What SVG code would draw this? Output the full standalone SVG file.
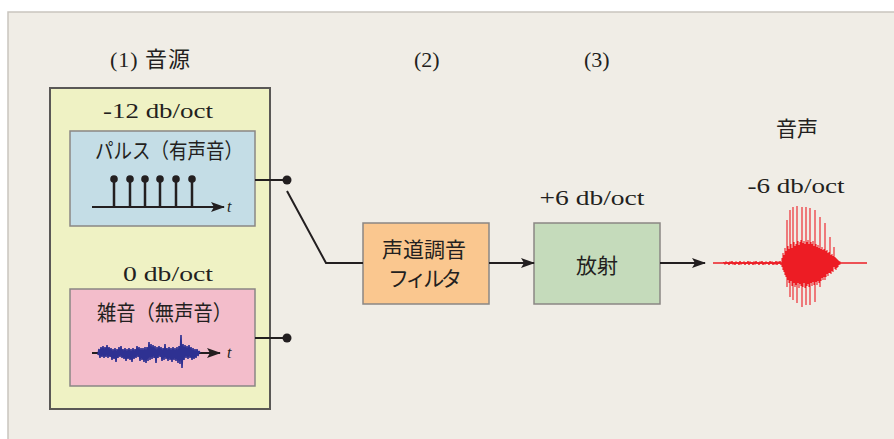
<svg xmlns="http://www.w3.org/2000/svg" width="894" height="439" viewBox="0 0 894 439">
<defs>
<style>
.lat{font-family:"Liberation Serif","Noto Sans CJK JP",serif;font-size:22px;fill:#231f20}
.jp{font-family:"Noto Sans CJK JP","Noto Sans CJK SC",sans-serif;font-size:21px;fill:#231f20}
.it{font-family:"Liberation Serif",serif;font-style:italic;font-size:16px;fill:#231f20}
.box{stroke:#8a8784;stroke-width:1.5}
.wire{fill:none;stroke:#231f20;stroke-width:2}
</style>
<marker id="ah" markerWidth="14" markerHeight="10" refX="13" refY="5" orient="auto" markerUnits="userSpaceOnUse">
<path d="M0,0 L14,5 L0,10 L3,5 Z" fill="#231f20"/>
</marker>
</defs>
<rect x="0" y="0" width="894" height="439" fill="#ffffff"/>
<rect x="8" y="12" width="890" height="432" fill="#f0ede6" stroke="#c9c5bf" stroke-width="1.5"/>

<g id="labels">
<text class="lat" x="110" y="67" font-size="20" textLength="80">(1) 音源</text>
<text class="lat" x="414" y="67" font-size="20">(2)</text>
<text class="lat" x="584" y="67" font-size="20">(3)</text>
</g>

<g id="source">
<rect x="50" y="88" width="220" height="321" fill="#eff2c4" stroke="#5a5856" stroke-width="2"/>
<text class="lat" x="158" y="118" text-anchor="middle" textLength="110" lengthAdjust="spacingAndGlyphs">-12 db/oct</text>
<text class="lat" x="168" y="281" text-anchor="middle" textLength="90" lengthAdjust="spacingAndGlyphs">0 db/oct</text>
</g>

<g id="pulse">
<rect class="box" x="70" y="131" width="185" height="95" fill="#c4dde6"/>
<text class="jp" x="95" y="158" font-size="20" textLength="148" lengthAdjust="spacingAndGlyphs">パルス（有声音）</text>
<line x1="92" y1="207" x2="224" y2="207" stroke="#231f20" stroke-width="2.2" marker-end="url(#ah)"/>
<g stroke="#231f20" stroke-width="2.5" fill="#231f20">
<line x1="114" y1="179" x2="114" y2="207"/><circle cx="114" cy="179" r="3.8" stroke="none"/>
<line x1="130" y1="179" x2="130" y2="207"/><circle cx="130" cy="179" r="3.8" stroke="none"/>
<line x1="145" y1="179" x2="145" y2="207"/><circle cx="145" cy="179" r="3.8" stroke="none"/>
<line x1="160" y1="179" x2="160" y2="207"/><circle cx="160" cy="179" r="3.8" stroke="none"/>
<line x1="176" y1="179" x2="176" y2="207"/><circle cx="176" cy="179" r="3.8" stroke="none"/>
<line x1="192" y1="179" x2="192" y2="207"/><circle cx="192" cy="179" r="3.8" stroke="none"/>
</g>
<text class="it" x="227" y="212">t</text>
</g>

<g id="noise">
<rect class="box" x="70" y="289" width="185" height="97" fill="#f3bdcb"/>
<text class="jp" x="97" y="320" font-size="20" textLength="135" lengthAdjust="spacingAndGlyphs">雑音（無声音）</text>
<line x1="92" y1="353" x2="220" y2="353" stroke="#231f20" stroke-width="2.2" marker-end="url(#ah)"/>
<path fill="none" stroke="#2e3192" stroke-width="1.6" stroke-linejoin="bevel" d="M98,355 L99,349 L100,358 L101,347 L102,357 L103,346 L104,358 L105,347 L106,357 L107,345 L108,358 L109,347 L110,357 L111,348 L112,360 L113,349 L114,359 L115,348 L116,362 L117,349 L118,358 L119,347 L120,357 L121,346 L122,358 L123,349 L124,359 L125,348 L126,361 L127,349 L128,359 L129,348 L130,360 L131,349 L132,362 L133,348 L134,359 L135,349 L136,358 L137,346 L138,357 L139,347 L140,361 L141,348 L142,360 L143,348 L144,362 L145,347 L146,363 L147,347 L148,361 L149,342 L150,360 L151,344 L152,359 L153,345 L154,358 L155,346 L156,363 L157,347 L158,358 L159,346 L160,357 L161,347 L162,361 L163,348 L164,360 L165,344 L166,359 L167,348 L168,361 L169,347 L170,360 L171,348 L172,362 L173,347 L174,360 L175,348 L176,361 L177,347 L178,363 L179,346 L180,364 L181,335 L182,368 L183,344 L184,360 L185,345 L186,358 L187,346 L188,359 L189,345 L190,358 L191,347 L192,360 L193,348 L194,359 L195,349 L196,358 L197,349 L198,356 L199,351 L200,353"/>
<text class="it" x="227" y="358">t</text>
</g>

<g id="filter">
<rect class="box" x="363" y="223" width="126" height="81" fill="#fac78f"/>
<text class="jp" x="424" y="257" text-anchor="middle" font-size="22">声道調音</text>
<text class="jp" x="425" y="286" text-anchor="middle" font-size="21" textLength="74">フィルタ</text>
</g>

<g id="radiation">
<rect class="box" x="534" y="223" width="126" height="81" fill="#c5dbbb"/>
<text class="jp" x="597" y="273" text-anchor="middle" font-size="22">放射</text>
<text class="lat" x="592" y="205" text-anchor="middle" textLength="105" lengthAdjust="spacingAndGlyphs">+6 db/oct</text>
</g>

<g id="speech">
<text class="jp" x="797" y="136" text-anchor="middle" font-size="21">音声</text>
<text class="lat" x="796" y="193" text-anchor="middle" textLength="97" lengthAdjust="spacingAndGlyphs">-6 db/oct</text>
<line x1="713" y1="263" x2="867" y2="263" stroke="#ed1c24" stroke-width="1.3"/>
<path fill="none" stroke="#ed1c24" stroke-width="1" d="M723,263 L724,262 L725,264.5 L726,261.5 L727,264 L728,262 L729,265 L730,261.5 L731,264 L732,261 L733,264.5 L734,262 L735,265 L736,261.5 L737,264 L738,262 L739,265 L740,261 L741,264.5 L742,262 L743,264 L744,261.5 L745,265 L746,262 L747,264 L748,261 L749,265 L750,261.5 L751,264 L752,262 L753,265 L754,261.5 L755,264.5 L756,261 L757,264 L758,262 L759,265 L760,261.5 L761,264 L762,261 L763,265 L764,262 L765,264.5 L766,261.5 L767,264 L768,262 L769,265 L770,261 L771,264 L772,261.5 L773,265 L774,262 L775,264.5 L776,261 L777,265 L778,261.5 L779,264 L780,261 L781,265 L782,263"/>
<path fill="none" stroke="#ed1c24" stroke-width="1.1" d="M782,258V267 M783,253V270 M784,255V272 M785,248V275 M786,251V277 M787,220V287 M788,246V280 M789,249V283 M790,210V297 M791,244V281 M792,248V286 M793,207V300 M794,242V283 M795,246V287 M796,244V285 M797,206V303 M798,241V283 M799,245V288 M800,242V284 M801,240V286 M802,207V307 M803,243V287 M804,241V283 M805,244V288 M806,207V305 M807,242V286 M808,240V284 M809,244V287 M810,208V305 M811,242V283 M812,244V286 M813,241V282 M814,246V285 M815,210V302 M816,244V282 M817,247V285 M818,245V281 M819,248V283 M820,217V287 M821,249V281 M822,247V278 M823,250V280 M824,249V277 M825,223V280 M826,251V277 M827,250V274 M828,253V276 M829,252V273 M830,237V273 M831,255V274 M832,254V271 M833,256V272 M834,247V267 M835,257V269 M836,258V270 M837,259V268 M838,260V267 M839,261V265 M840,261.5V264.5"/>
</g>

<g id="connectors">
<line class="wire" x1="255" y1="180" x2="287" y2="180"/>
<circle cx="287" cy="180" r="4.5" fill="#231f20"/>
<line class="wire" x1="255" y1="338" x2="287" y2="338"/>
<circle cx="287" cy="338" r="4.5" fill="#231f20"/>
<polyline class="wire" points="287,191 326,263 363,263"/>
<line class="wire" x1="489" y1="263" x2="534" y2="263" marker-end="url(#ah)"/>
<line class="wire" x1="660" y1="263" x2="705" y2="263" marker-end="url(#ah)"/>
</g>
</svg>
